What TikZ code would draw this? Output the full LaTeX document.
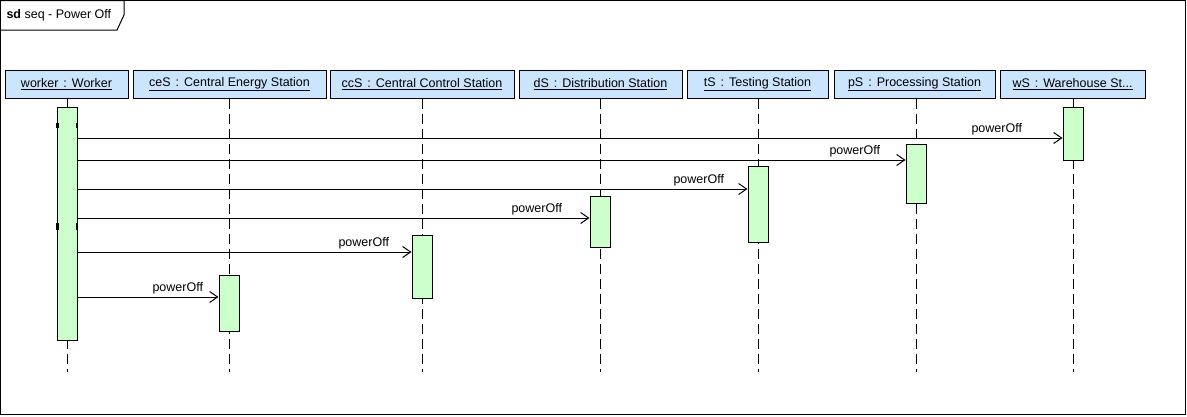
\documentclass[tikz,border=0pt]{standalone}
\usepackage{fontspec}
\setmainfont{Liberation Sans}
\usetikzlibrary{arrows.meta}
\definecolor{headblue}{RGB}{204,229,255}
\definecolor{actgreen}{RGB}{204,255,204}
\newcommand{\ofkind}{\hspace{5pt}:\hspace{5pt}}

\begin{document}
\begin{tikzpicture}[x=1pt,y=-1pt,line width=1pt,
  font=\fontsize{12.5}{14}\selectfont,
  head/.style={draw,fill=headblue,minimum height=28pt,inner sep=0pt},
  act/.style={draw,fill=actgreen,minimum width=20pt,inner sep=0pt},
  lifeline/.style={dash pattern=on 10pt off 5pt},
  msg/.style={-{Straight Barb[length=8pt,width=11pt]}},
  lbl/.style={anchor=base west,inner sep=0pt}]
\useasboundingbox (0,0) rectangle (1187,416);
\draw (0.5,0.5) rectangle (1185,414);
\draw (0.5,0.5) -- (124,0.5) -- (124,15) -- (117,30) -- (0.5,30);
\node[anchor=west,inner sep=0pt] (title) at (6,15) {\textbf{sd} seq - Power Off};

\node[head,minimum width=123pt] (worker) at (66.5,84) {\underline{worker\ofkind Worker}};
\node[head,minimum width=193pt] (ceS) at (229.5,84) {\underline{ceS\ofkind Central Energy Station}};
\node[head,minimum width=184pt] (ccS) at (422,84) {\underline{ccS\ofkind Central Control Station}};
\node[head,minimum width=163pt] (dS) at (600.5,84) {\underline{dS\ofkind Distribution Station}};
\node[head,minimum width=141pt] (tS) at (757.5,84) {\underline{tS\ofkind Testing Station}};
\node[head,minimum width=161pt] (pS) at (914.5,84) {\underline{pS\ofkind Processing Station}};
\node[head,minimum width=145pt] (wS) at (1072.5,84) {\underline{wS\ofkind Warehouse St...}};

\coordinate (workerX) at (67,0);
\coordinate (ceSX) at (229,0);
\coordinate (ccSX) at (422,0);
\coordinate (dSX) at (600,0);
\coordinate (tSX) at (758,0);
\coordinate (pSX) at (916,0);
\coordinate (wSX) at (1073,0);

\draw[lifeline] (workerX |- worker.south) -- (workerX |- 0,372);
\draw[lifeline] (ceSX |- ceS.south) -- (ceSX |- 0,372);
\draw[lifeline] (ccSX |- ccS.south) -- (ccSX |- 0,372);
\draw[lifeline] (dSX |- dS.south) -- (dSX |- 0,372);
\draw[lifeline] (tSX |- tS.south) -- (tSX |- 0,372);
\draw[lifeline] (pSX |- pS.south) -- (pSX |- 0,372);
\draw[lifeline] (wSX |- wS.south) -- (wSX |- 0,372);

\node[act,minimum height=233pt] (workerAct) at (67,223.5) {};
\node[act,minimum height=53pt] (wSAct) at (1073,133.5) {};
\node[act,minimum height=59pt] (pSAct) at (916,173.5) {};
\node[act,minimum height=76pt] (tSAct) at (758,204) {};
\node[act,minimum height=51pt] (dSAct) at (600,221.5) {};
\node[act,minimum height=63pt] (ccSAct) at (422,266.5) {};
\node[act,minimum height=56pt] (ceSAct) at (229,303) {};

\fill (56,123) rectangle (58.5,128);
\fill (75.5,123) rectangle (78,128);
\fill (56,223) rectangle (58.5,230);
\fill (75.5,223) rectangle (78,230);

\draw[msg] (workerAct.east |- 0,138) -- (wSAct.west |- 0,138);
\draw[msg] (workerAct.east |- 0,160) -- (pSAct.west |- 0,160);
\draw[msg] (workerAct.east |- 0,189) -- (tSAct.west |- 0,189);
\draw[msg] (workerAct.east |- 0,218) -- (dSAct.west |- 0,218);
\draw[msg] (workerAct.east |- 0,252) -- (ccSAct.west |- 0,252);
\draw[msg] (workerAct.east |- 0,297) -- (ceSAct.west |- 0,297);

\node[lbl] (m1) at (971,132) {powerOff};
\node[lbl] (m2) at (829,154) {powerOff};
\node[lbl] (m3) at (673,183) {powerOff};
\node[lbl] (m4) at (511,212) {powerOff};
\node[lbl] (m5) at (338,246) {powerOff};
\node[lbl] (m6) at (152,291) {powerOff};
\end{tikzpicture}
\end{document}
